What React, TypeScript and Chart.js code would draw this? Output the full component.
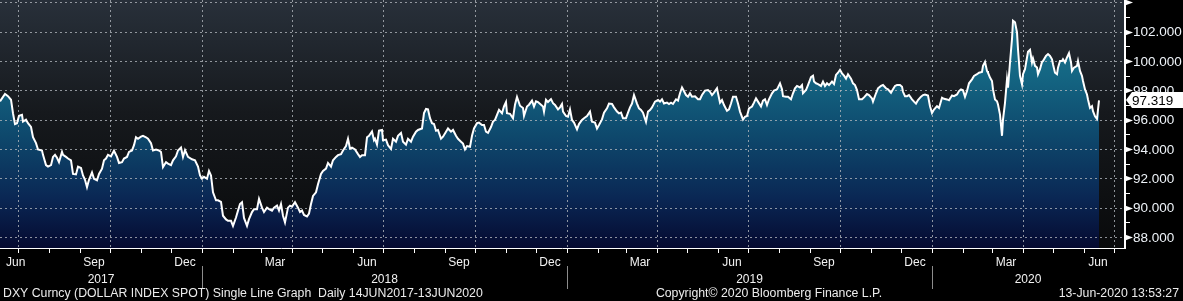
import React, { useEffect, useRef } from 'react';
import { Chart, registerables } from 'chart.js';

Chart.register(...registerables);

// ---------- DATA ----------
// day offsets counted from 13-Jun-2017
const dayOffsets: number[] = [
  // Jun 2017 - Dec 2017
  0, 5, 8, 11, 13, 15, 17, 19, 22, 23,
  26, 28, 31, 33, 36, 38, 42, 43, 46, 48,
  51, 53, 55, 57, 59, 62, 63, 66, 68, 71,
  73, 76, 78, 81, 83, 85, 87, 89, 92, 94,
  97, 99, 102, 104, 106, 108, 111, 114, 117, 119,
  122, 124, 127, 129, 132, 134, 136, 138, 141, 143,
  146, 148, 151, 153, 156, 159, 161, 163, 166, 168,
  171, 173, 176, 178, 181, 183,
  // Dec 2017 - Jun 2018
  185, 188, 192, 195, 198, 200, 202, 204, 207, 209,
  211, 213, 216, 218, 221, 223, 226, 228, 231, 233,
  236, 238, 240, 242, 244, 247, 249, 252, 254, 257,
  259, 262, 264, 267, 269, 272, 274, 277, 279, 281,
  283, 285, 288, 290, 292, 295, 298, 300, 302, 304,
  307, 309, 311, 313, 316, 318, 321, 323, 326, 328,
  331, 333, 336, 338, 341, 343, 346, 348, 350, 352,
  355, 358, 360, 362, 365, 367, 369, 372, 374,
  // Jun 2018 - Dec 2018
  375, 377, 379, 382, 383, 386, 388, 391, 393, 396,
  398, 401, 403, 406, 408, 411, 413, 416, 418, 422,
  424, 426, 428, 430, 432, 434, 436, 438, 441, 443,
  446, 448, 451, 453, 456, 458, 461, 463, 465, 467,
  470, 472, 474, 477, 479, 482, 484, 486, 488, 491,
  493, 495, 497, 499, 502, 504, 506, 507, 510, 513,
  515, 517, 520, 523, 524, 527, 529, 532, 534, 536,
  538, 541, 543, 544, 546, 548, 551, 553,
  // Dec 2018 - Jun 2019
  555, 558, 560, 562, 563, 566, 568, 570, 572, 574,
  577, 579, 582, 584, 587, 590, 592, 595, 597, 599,
  602, 604, 607, 609, 612, 614, 617, 619, 621, 623,
  626, 628, 630, 632, 634, 637, 639, 641, 643, 646,
  648, 650, 652, 655, 658, 660, 662, 664, 667, 669,
  671, 673, 676, 678, 680, 682, 683, 686, 688, 690,
  692, 695, 698, 700, 702, 705, 708, 710, 712, 714,
  717, 718, 720, 722, 724, 727, 729, 731, 733, 736,
  738,
  // Jun 2019 - Dec 2019
  740, 743, 745, 747, 749, 752, 754, 756, 758, 761,
  763, 765, 767, 769, 772, 774, 777, 778, 780, 782,
  783, 786, 788, 791, 793, 795, 797, 800, 802, 803,
  806, 808, 811, 813, 814, 816, 818, 821, 823, 825,
  827, 829, 832, 834, 836, 838, 840, 842, 844, 846,
  848, 851, 853, 855, 857, 859, 862, 864, 867, 869,
  872, 873, 876, 878, 881, 883, 886, 888, 891, 893,
  895, 897, 900, 902, 903, 905, 907, 909, 912, 914,
  916, 918, 921, 923,
  // Dec 2019 - Jun 2020
  925, 928, 930, 932, 934, 937, 939, 942, 944, 947,
  949, 952, 954, 957, 959, 961, 963, 965, 967, 969,
  972, 974, 977, 979, 982, 983, 985, 987, 988, 990,
  992, 993, 995, 997, 998, 1000, 1002, 1003, 1005, 1007,
  1008, 1010, 1012, 1013, 1015, 1017, 1018, 1020, 1022, 1023,
  1025, 1027, 1028, 1030, 1032, 1033, 1035, 1037, 1038, 1040,
  1042, 1043, 1046, 1048, 1050, 1052, 1053, 1055, 1057, 1058,
  1060, 1062, 1063, 1065, 1067, 1069, 1071, 1072, 1074, 1077,
  1078, 1080, 1082, 1083, 1085, 1087, 1088, 1090, 1092, 1093,
  1095, 1097, 1099,
];

const dxyClose: number[] = [
  // Jun 2017 - Dec 2017
  97.25, 97.75, 97.6, 97.36, 96.44, 95.7, 95.76, 96.26, 96.33, 95.87,
  96.0, 95.76, 95.5, 94.8, 94.4, 93.97, 93.9, 93.6, 92.9, 92.8,
  92.9, 93.46, 93.6, 93.4, 93.1, 93.8, 93.6, 93.46, 93.35, 93.23,
  92.3, 92.27, 92.8, 92.7, 92.2, 91.9, 91.4, 91.9, 92.4, 91.97,
  91.86, 92.3, 92.66, 93.23, 93.35, 93.6, 93.5, 93.88, 93.46, 93.05,
  93.1, 93.35, 93.46, 93.8, 93.9, 94.26, 94.8, 94.7, 94.84, 94.9,
  94.8, 94.7, 94.4, 93.9, 93.97, 93.9, 93.8, 92.77, 93.1, 93.0,
  92.9, 93.23, 93.5, 93.9, 94.1, 93.46,
  // Dec 2017 - Jun 2018
  93.92, 93.46, 93.3, 93.23, 92.8, 92.2, 91.97, 92.1, 91.97, 92.5,
  92.2, 91.05, 90.5, 90.5, 90.4, 89.45, 89.2, 89.1, 89.1, 88.76,
  89.33, 89.8, 90.25, 90.37, 89.3, 88.76, 89.22, 89.7, 89.9, 89.9,
  90.6, 90.0, 89.7, 90.0, 89.9, 89.8, 90.0, 90.14, 89.8, 90.25,
  89.45, 89.0, 90.0, 90.14, 90.07, 90.37, 90.0, 89.7, 89.8, 89.5,
  89.4, 89.6, 90.25, 90.8, 91.05, 91.6, 92.3, 92.5, 92.66, 93.05,
  92.8, 93.23, 93.46, 93.58, 93.65, 93.9, 94.2, 94.7, 94.03, 94.1,
  93.97, 93.65, 93.46, 93.58, 93.58, 94.8, 94.9, 95.2, 94.6,
  // Jun 2018 - Dec 2018
  94.7, 94.3, 95.25, 95.3, 94.6, 94.64, 94.26, 94.0, 94.7, 94.5,
  94.9, 95.1, 94.5, 94.3, 94.7, 94.5, 94.84, 95.18, 95.3, 95.4,
  96.45, 96.73, 96.7, 96.1, 95.76, 95.7, 95.25, 95.3, 94.7, 94.84,
  95.18, 95.4, 95.18, 95.3, 94.9, 94.7, 94.5, 94.37, 93.97, 94.2,
  94.15, 94.9, 95.4, 95.76, 95.8, 95.64, 95.64, 95.18, 95.1, 95.5,
  95.87, 95.98, 96.33, 96.67, 96.44, 96.9, 97.2, 96.44, 96.4, 96.1,
  97.02, 97.55, 96.95, 96.8, 96.26, 96.9, 97.02, 97.3, 96.9, 97.25,
  97.2, 97.02, 96.9, 96.55, 97.36, 97.2, 97.4, 97.13,
  // Dec 2018 - Jun 2019
  97.0, 96.7, 96.84, 97.07, 96.55, 96.25, 96.2, 96.7, 95.98, 95.8,
  95.34, 95.7, 95.98, 96.1, 96.25, 96.55, 95.86, 95.8, 95.4, 95.64,
  96.02, 96.48, 96.77, 97.1, 97.07, 96.84, 96.55, 96.43, 96.48, 96.1,
  96.1, 96.48, 96.84, 97.1, 97.68, 97.1, 96.77, 96.66, 96.48, 95.86,
  96.55, 96.66, 96.84, 97.23, 97.34, 97.23, 97.39, 97.1, 97.16, 97.07,
  97.16, 97.07, 97.39, 97.3, 97.8, 98.2, 98.07, 97.68, 97.57, 97.8,
  97.57, 97.6, 97.39, 97.39, 97.68, 97.98, 98.02, 97.9, 97.68, 97.84,
  98.14, 97.8, 97.16, 97.34, 97.0, 96.6, 96.7, 97.1, 97.57, 97.57,
  97.1,
  // Jun 2019 - Dec 2019
  96.55, 96.0, 96.2, 96.25, 96.77, 96.9, 97.16, 97.45, 97.23, 96.9,
  97.3, 97.39, 97.0, 97.39, 97.8, 97.98, 98.07, 98.2, 98.48, 98.07,
  97.6, 97.57, 97.57, 97.39, 97.8, 98.14, 98.3, 98.2, 98.36, 97.8,
  98.02, 98.36, 98.9, 99.0, 98.6, 98.48, 98.43, 98.3, 98.6, 98.3,
  98.48, 98.36, 98.6, 98.43, 99.05, 99.2, 99.4, 99.16, 99.0, 98.8,
  99.1, 98.8, 98.48, 98.36, 98.02, 97.39, 97.39, 97.52, 97.75, 97.68,
  97.45, 97.23, 97.8, 98.14, 98.3, 98.36, 98.14, 98.07, 97.84, 98.07,
  98.3, 98.36, 98.36, 98.25, 97.9, 97.6, 97.6, 97.68, 97.39, 97.23,
  97.1, 97.34, 97.57, 97.68,
  // Dec 2019 - Jun 2020
  97.72, 97.65, 96.92, 96.46, 96.69, 96.92, 96.8, 97.5, 97.42, 97.38,
  97.33, 97.65, 97.6, 97.72, 97.95, 98.06, 98.0, 97.56, 97.95, 98.48,
  98.75, 98.98, 99.1, 99.2, 99.25, 99.67, 99.94, 99.32, 99.2, 98.87,
  98.64, 98.06, 97.38, 97.26, 97.03, 96.35, 94.9, 96.0, 97.15, 98.75,
  98.18, 99.9, 101.5, 102.75, 102.64, 101.95, 100.8, 98.98, 98.4, 99.1,
  99.44, 100.24, 100.63, 100.76, 99.9, 100.17, 99.67, 99.55, 99.1, 99.44,
  99.94, 100.0, 100.35, 100.47, 100.35, 100.12, 99.78, 99.2, 99.1, 99.55,
  100.0, 100.0, 100.12, 99.9, 100.24, 100.54, 99.9, 99.32, 99.55, 99.67,
  100.0, 99.32, 98.98, 98.64, 98.06, 97.72, 97.38, 96.8, 96.92, 96.58,
  96.23, 96.05, 97.319,
];

const yTickValues: number[] = [88, 90, 92, 94, 96, 98, 100, 102, 104];
const yMinorValues: number[] = [89, 91, 93, 95, 97, 99, 101, 103];

// quarter month labels
const monthLabelYears: number[] = [2017, 2017, 2017, 2018, 2018, 2018, 2018, 2019, 2019, 2019, 2019, 2020, 2020];
const monthLabelMonths: number[] = [6, 9, 12, 3, 6, 9, 12, 3, 6, 9, 12, 3, 6];
const monthLabelText: string[] = ['Jun', 'Sep', 'Dec', 'Mar', 'Jun', 'Sep', 'Dec', 'Mar', 'Jun', 'Sep', 'Dec', 'Mar', 'Jun'];
const yearLabels: string[] = ['2017', '2018', '2019', '2020'];

const footerLeft = 'DXY Curncy (DOLLAR INDEX SPOT) Single Line Graph  Daily 14JUN2017-13JUN2020';
const footerCenter = 'Copyright\u00A9 2020 Bloomberg Finance L.P.';
const footerRight = '13-Jun-2020 13:53:27';

// ---------- helpers ----------
const BASE = Date.UTC(2017, 5, 13);
const dayOf = (y: number, m: number, d: number) => Math.round((Date.UTC(y, m - 1, d) - BASE) / 86400000);

const monthStartDays: number[] = [];
for (let y = 2017; y <= 2020; y++) {
  for (let m = 1; m <= 12; m++) {
    const d = dayOf(y, m, 1);
    if (d > 0 && d < 1124) monthStartDays.push(d);
  }
}
const quarterDays: number[] = [];
for (let y = 2017; y <= 2020; y++) {
  for (const m of [1, 4, 7, 10]) {
    const d = dayOf(y, m, 1);
    if (d > 0 && d < 1124) quarterDays.push(d);
  }
}
const yearStartDays: number[] = [dayOf(2018, 1, 1), dayOf(2019, 1, 1), dayOf(2020, 1, 1)];

const FONT = '"Liberation Sans", Arial, sans-serif';

export default function App() {
  const ref = useRef<HTMLCanvasElement | null>(null);

  useEffect(() => {
    document.body.style.margin = '0';
    document.body.style.background = '#000';
    const canvas = ref.current;
    if (!canvas) return;

    const points = dayOffsets.map((d, i) => ({ x: d, y: dxyClose[i] }));
    const gridColor = 'rgba(175,180,186,0.8)';

    const bgPlugin = {
      id: 'bbgBackground',
      beforeDraw(chart: any) {
        const { ctx, chartArea: a, width, height } = chart;
        ctx.save();
        ctx.fillStyle = '#000000';
        ctx.fillRect(0, 0, width, height);
        const g = ctx.createLinearGradient(0, a.top, 0, a.bottom);
        g.addColorStop(0, '#28303a');
        g.addColorStop(0.45, '#16191d');
        g.addColorStop(1, '#090a0b');
        ctx.fillStyle = g;
        ctx.fillRect(a.left, a.top, a.right - a.left, a.bottom - a.top);
        ctx.restore();
      },
    };

    const gridPlugin = {
      id: 'bbgGrid',
      beforeDatasetsDraw(chart: any) {
        const { ctx, chartArea: a } = chart;
        const xs = chart.scales.x;
        const ys = chart.scales.y;
        ctx.save();
        ctx.strokeStyle = gridColor;
        ctx.lineWidth = 1;
        ctx.setLineDash([2, 3]);
        for (const v of yTickValues) {
          const y = Math.round(ys.getPixelForValue(v)) + 0.5;
          ctx.beginPath();
          ctx.moveTo(a.left, y);
          ctx.lineTo(a.right, y);
          ctx.stroke();
        }
        for (const d of quarterDays) {
          const x = Math.round(xs.getPixelForValue(d)) + 0.5;
          ctx.beginPath();
          ctx.moveTo(x, a.top);
          ctx.lineTo(x, a.bottom);
          ctx.stroke();
        }
        ctx.restore();
      },
    };

    const axisPlugin = {
      id: 'bbgAxes',
      afterDraw(chart: any) {
        const { ctx, chartArea: a } = chart;
        const xs = chart.scales.x;
        const ys = chart.scales.y;
        ctx.save();
        // axis lines
        ctx.strokeStyle = '#ffffff';
        ctx.lineWidth = 2;
        ctx.beginPath();
        ctx.moveTo(a.right + 1, 0);
        ctx.lineTo(a.right + 1, a.bottom + 1);
        ctx.stroke();
        ctx.lineWidth = 1;
        ctx.beginPath();
        ctx.moveTo(0, a.bottom + 0.5);
        ctx.lineTo(a.right + 1, a.bottom + 0.5);
        ctx.stroke();

        // y ticks (arrows) + minor ticks
        ctx.fillStyle = '#ffffff';
        for (const v of yTickValues) {
          const y = Math.round(ys.getPixelForValue(v)) + 0.5;
          ctx.beginPath();
          ctx.moveTo(a.right + 1, y - 3);
          ctx.lineTo(a.right + 9, y);
          ctx.lineTo(a.right + 1, y + 3);
          ctx.closePath();
          ctx.fill();
        }
        ctx.lineWidth = 1;
        for (const v of yMinorValues) {
          const y = Math.round(ys.getPixelForValue(v)) + 0.5;
          ctx.beginPath();
          ctx.moveTo(a.right + 1, y);
          ctx.lineTo(a.right + 6, y);
          ctx.stroke();
        }
        // y labels
        ctx.font = '13.5px ' + FONT;
        ctx.textAlign = 'left';
        ctx.textBaseline = 'middle';
        ctx.fillStyle = '#eef3f8';
        for (const v of yTickValues) {
          if (v === 104) continue;
          const y = ys.getPixelForValue(v);
          ctx.fillText(v.toFixed(3), a.right + 9, y + 1);
        }

        // last value tag
        const last = dxyClose[dxyClose.length - 1];
        const ly = Math.round(ys.getPixelForValue(last));
        ctx.fillStyle = '#ffffff';
        ctx.beginPath();
        ctx.moveTo(a.right + 2, ly);
        ctx.lineTo(a.right + 8, ly - 8);
        ctx.lineTo(chart.width, ly - 8);
        ctx.lineTo(chart.width, ly + 8);
        ctx.lineTo(a.right + 8, ly + 8);
        ctx.closePath();
        ctx.fill();
        ctx.fillStyle = '#000000';
        ctx.fillText(last.toFixed(3), a.right + 8, ly + 1);

        // x month ticks
        ctx.strokeStyle = '#ffffff';
        for (const d of monthStartDays) {
          const x = Math.round(xs.getPixelForValue(d)) + 0.5;
          ctx.beginPath();
          ctx.moveTo(x, a.bottom + 1);
          ctx.lineTo(x, a.bottom + 5);
          ctx.stroke();
        }

        // month labels
        ctx.font = '12px ' + FONT;
        ctx.fillStyle = '#f2f2f2';
        ctx.textAlign = 'center';
        for (let i = 0; i < monthLabelText.length; i++) {
          const d = dayOf(monthLabelYears[i], monthLabelMonths[i], 15);
          const w = ctx.measureText(monthLabelText[i]).width;
          let x = xs.getPixelForValue(d);
          x = Math.max(x, 6 + w / 2);
          ctx.fillText(monthLabelText[i], x, 263);
        }

        // year separators + labels
        ctx.strokeStyle = '#8c8c8c';
        ctx.lineWidth = 1;
        const bounds = [a.left, ...yearStartDays.map((d) => xs.getPixelForValue(d)), a.right];
        for (const d of yearStartDays) {
          const x = Math.round(xs.getPixelForValue(d)) + 0.5;
          ctx.beginPath();
          ctx.moveTo(x, 266);
          ctx.lineTo(x, 289);
          ctx.stroke();
        }
        for (let i = 0; i < yearLabels.length; i++) {
          ctx.fillText(yearLabels[i], (bounds[i] + bounds[i + 1]) / 2, 280);
        }

        // footer
        ctx.font = '12.3px ' + FONT;
        ctx.fillStyle = '#ececec';
        ctx.textAlign = 'left';
        ctx.fillText(footerLeft, 3, 294);
        ctx.textAlign = 'center';
        ctx.fillText(footerCenter, 769, 294);
        ctx.textAlign = 'right';
        ctx.fillText(footerRight, 1179, 294);
        ctx.restore();
      },
    };

    const chart = new Chart(canvas, {
      type: 'line',
      data: {
        datasets: [
          {
            data: points,
            borderColor: '#ffffff',
            borderWidth: 2,
            pointRadius: 0,
            tension: 0,
            fill: 'start',
            backgroundColor: (c: any) => {
              const ch = c.chart;
              const a = ch.chartArea;
              if (!a) return 'rgba(20,90,120,1)';
              const g = ch.ctx.createLinearGradient(0, a.top, 0, a.bottom);
              g.addColorStop(0, '#1c7a93');
              g.addColorStop(0.3, '#146683');
              g.addColorStop(0.55, '#0e486c');
              g.addColorStop(0.8, '#0a2754');
              g.addColorStop(1, '#050a30');
              return g;
            },
          },
        ],
      },
      options: {
        animation: false,
        responsive: false,
        devicePixelRatio: 1,
        layout: { padding: 0 },
        plugins: {
          legend: { display: false },
          tooltip: { enabled: false },
          filler: { drawTime: 'beforeDatasetsDraw' },
        },
        scales: {
          x: {
            type: 'linear',
            min: 0,
            max: 1124,
            afterBuildTicks: (s: any) => {
              s.ticks = quarterDays.map((v) => ({ value: v }));
            },
            afterFit: (s: any) => {
              s.height = 53;
            },
            ticks: { display: false },
            grid: { display: false },
            border: { display: false },
          },
          y: {
            position: 'right',
            min: 87.25,
            max: 104.16,
            afterBuildTicks: (s: any) => {
              s.ticks = yTickValues.map((v) => ({ value: v }));
            },
            afterFit: (s: any) => {
              s.width = 59;
            },
            ticks: { display: false },
            grid: { display: false },
            border: { display: false },
          },
        },
      } as any,
      plugins: [bgPlugin, gridPlugin, axisPlugin],
    });

    return () => chart.destroy();
  }, []);

  return <canvas ref={ref} width={1183} height={301} style={{ display: 'block', width: 1183, height: 301 }} />;
}
